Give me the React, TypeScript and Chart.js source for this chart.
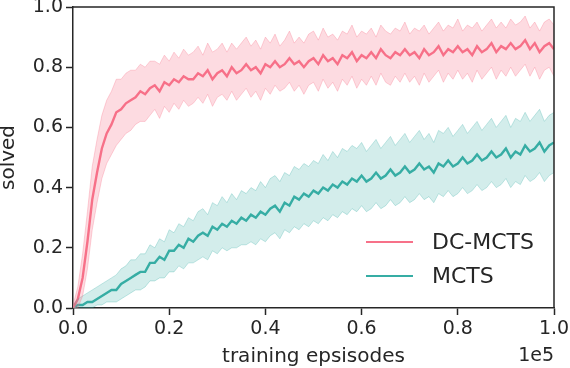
import React, { useEffect, useRef } from "react";
import { Chart, registerables } from "chart.js";

Chart.register(...registerables);

// x positions (in units of 1e5 training episodes), one per sample
const X_STEP = 0.01;
const N_POINTS = 101;

const dcMean = [
  0.00, 0.03, 0.10, 0.22, 0.36, 0.45, 0.53, 0.58, 0.61, 0.65,
  0.66, 0.68, 0.69, 0.70, 0.72, 0.71, 0.73, 0.74, 0.72, 0.75,
  0.74, 0.76, 0.75, 0.77, 0.76, 0.76, 0.78, 0.77, 0.79, 0.76,
  0.78, 0.79, 0.77, 0.80, 0.78, 0.79, 0.81, 0.79, 0.80, 0.78,
  0.81, 0.80, 0.82, 0.80, 0.81, 0.83, 0.81, 0.82, 0.80, 0.82,
  0.83, 0.81, 0.84, 0.82, 0.83, 0.81, 0.84, 0.83, 0.85, 0.82,
  0.84, 0.83, 0.85, 0.83, 0.86, 0.84, 0.83, 0.85, 0.84, 0.86,
  0.84, 0.85, 0.83, 0.86, 0.84, 0.85, 0.87, 0.84, 0.86, 0.85,
  0.87, 0.85, 0.86, 0.84, 0.87, 0.85, 0.86, 0.88, 0.85, 0.87,
  0.86, 0.88, 0.86, 0.87, 0.89, 0.86, 0.88, 0.85, 0.87, 0.88,
  0.86,
];
const dcUpper = [
  0.01, 0.07, 0.18, 0.32, 0.47, 0.56, 0.64, 0.69, 0.72, 0.76,
  0.76, 0.78, 0.79, 0.79, 0.81, 0.80, 0.82, 0.82, 0.81, 0.84,
  0.82, 0.85, 0.83, 0.86, 0.84, 0.85, 0.87, 0.84, 0.88, 0.85,
  0.86, 0.88, 0.85, 0.88, 0.86, 0.88, 0.90, 0.87, 0.89, 0.86,
  0.90, 0.88, 0.91, 0.87, 0.89, 0.92, 0.88, 0.90, 0.88, 0.91,
  0.92, 0.89, 0.93, 0.90, 0.91, 0.89, 0.92, 0.91, 0.94, 0.90,
  0.92, 0.91, 0.93, 0.90, 0.94, 0.92, 0.91, 0.93, 0.92, 0.95,
  0.91, 0.93, 0.92, 0.94, 0.91, 0.93, 0.95, 0.92, 0.94, 0.93,
  0.96, 0.92, 0.94, 0.93, 0.95, 0.92, 0.94, 0.96, 0.93, 0.95,
  0.93, 0.96, 0.94, 0.95, 0.97, 0.93, 0.95, 0.92, 0.95, 0.96,
  0.94,
];
const dcLower = [
  0.00, 0.00, 0.04, 0.13, 0.26, 0.35, 0.43, 0.48, 0.51, 0.54,
  0.56, 0.58, 0.59, 0.61, 0.62, 0.62, 0.64, 0.66, 0.63, 0.67,
  0.65, 0.68, 0.66, 0.69, 0.67, 0.68, 0.70, 0.68, 0.71, 0.67,
  0.70, 0.71, 0.69, 0.72, 0.69, 0.71, 0.73, 0.70, 0.72, 0.69,
  0.73, 0.71, 0.74, 0.72, 0.73, 0.75, 0.72, 0.74, 0.71, 0.74,
  0.75, 0.72, 0.76, 0.73, 0.75, 0.72, 0.76, 0.74, 0.77, 0.73,
  0.76, 0.74, 0.77, 0.74, 0.78, 0.75, 0.74, 0.77, 0.75, 0.78,
  0.75, 0.77, 0.74, 0.78, 0.75, 0.77, 0.79, 0.75, 0.78, 0.76,
  0.79, 0.76, 0.78, 0.75, 0.79, 0.76, 0.78, 0.80, 0.76, 0.79,
  0.77, 0.80, 0.77, 0.79, 0.81, 0.77, 0.80, 0.76, 0.79, 0.80,
  0.77,
];

const mctsMean = [
  0.00, 0.01, 0.01, 0.02, 0.02, 0.03, 0.04, 0.05, 0.06, 0.06,
  0.08, 0.09, 0.10, 0.11, 0.12, 0.12, 0.15, 0.15, 0.17, 0.16,
  0.19, 0.19, 0.21, 0.20, 0.23, 0.22, 0.24, 0.25, 0.24, 0.27,
  0.26, 0.28, 0.27, 0.29, 0.28, 0.30, 0.29, 0.31, 0.30, 0.32,
  0.31, 0.33, 0.34, 0.32, 0.35, 0.34, 0.37, 0.36, 0.38, 0.37,
  0.39, 0.38, 0.40, 0.39, 0.41, 0.40, 0.42, 0.41, 0.43, 0.42,
  0.44, 0.42, 0.43, 0.45, 0.43, 0.44, 0.46, 0.44, 0.45, 0.47,
  0.45, 0.46, 0.48, 0.46, 0.47, 0.45, 0.48, 0.47, 0.49, 0.47,
  0.48, 0.50, 0.48, 0.49, 0.51, 0.49, 0.50, 0.52, 0.50, 0.51,
  0.53, 0.50, 0.52, 0.51, 0.54, 0.52, 0.53, 0.55, 0.52, 0.54,
  0.55,
];
const mctsUpper = [
  0.01, 0.03, 0.04, 0.05, 0.06, 0.07, 0.08, 0.09, 0.10, 0.11,
  0.13, 0.14, 0.16, 0.16, 0.18, 0.18, 0.21, 0.20, 0.23, 0.22,
  0.26, 0.25, 0.28, 0.27, 0.30, 0.29, 0.32, 0.33, 0.31, 0.35,
  0.34, 0.37, 0.35, 0.38, 0.36, 0.39, 0.38, 0.40, 0.39, 0.42,
  0.40, 0.43, 0.44, 0.42, 0.45, 0.44, 0.47, 0.46, 0.48, 0.47,
  0.49, 0.48, 0.51, 0.49, 0.52, 0.50, 0.53, 0.52, 0.54, 0.53,
  0.55, 0.52, 0.54, 0.56, 0.53, 0.55, 0.57, 0.54, 0.56, 0.58,
  0.55, 0.57, 0.59, 0.56, 0.58, 0.55, 0.59, 0.58, 0.60, 0.57,
  0.59, 0.61, 0.58, 0.60, 0.62, 0.59, 0.61, 0.63, 0.60, 0.62,
  0.64, 0.60, 0.63, 0.62, 0.65, 0.62, 0.64, 0.66, 0.62, 0.64,
  0.65,
];
const mctsLower = [
  0.00, 0.00, 0.00, 0.00, 0.00, 0.01, 0.01, 0.02, 0.02, 0.02,
  0.03, 0.04, 0.05, 0.06, 0.06, 0.07, 0.09, 0.09, 0.10, 0.10,
  0.12, 0.12, 0.14, 0.13, 0.15, 0.15, 0.16, 0.17, 0.16, 0.19,
  0.18, 0.20, 0.19, 0.20, 0.20, 0.21, 0.21, 0.22, 0.21, 0.23,
  0.22, 0.24, 0.25, 0.23, 0.26, 0.25, 0.27, 0.26, 0.28, 0.27,
  0.29, 0.28, 0.30, 0.29, 0.31, 0.30, 0.32, 0.31, 0.33, 0.32,
  0.34, 0.32, 0.33, 0.35, 0.33, 0.34, 0.36, 0.34, 0.35, 0.37,
  0.35, 0.36, 0.38, 0.36, 0.37, 0.35, 0.38, 0.37, 0.39, 0.37,
  0.38, 0.40, 0.38, 0.39, 0.41, 0.39, 0.40, 0.42, 0.40, 0.41,
  0.43, 0.40, 0.42, 0.41, 0.44, 0.42, 0.43, 0.45, 0.42, 0.44,
  0.45,
];

const seriesNames = ["DC-MCTS", "MCTS"];
const xTicks = [0, 0.2, 0.4, 0.6, 0.8, 1.0];
const yTicks = [0, 0.2, 0.4, 0.6, 0.8, 1.0];
const xLabel = "training epsisodes";
const yLabel = "solved";
const xOffsetText = "1e5";

const PINK = "#f77189";
const TEAL = "#36ada4";
const INK = "#262626";
const FONT = "'DejaVu Sans', sans-serif";

const toPts = (arr: number[]) =>
  Array.from({ length: N_POINTS }, (_, i) => ({ x: +(i * X_STEP).toFixed(2), y: arr[i] ?? null }));

const decorPlugin = {
  id: "decor",
  afterDraw(chart: any) {
    const { ctx, chartArea } = chart;
    const { left, right, top, bottom } = chartArea;
    ctx.save();
    // frame top & right
    ctx.strokeStyle = INK;
    ctx.lineWidth = 1.5;
    ctx.beginPath();
    ctx.moveTo(left, top);
    ctx.lineTo(right, top);
    ctx.lineTo(right, bottom);
    ctx.stroke();

    ctx.fillStyle = INK;
    // y title
    ctx.save();
    ctx.translate(9, (top + bottom) / 2);
    ctx.rotate(-Math.PI / 2);
    ctx.font = `20px ${FONT}`;
    ctx.textAlign = "center";
    ctx.textBaseline = "middle";
    ctx.fillText(yLabel, 0, 0);
    ctx.restore();

    // x title
    ctx.font = `20px ${FONT}`;
    ctx.textAlign = "center";
    ctx.textBaseline = "alphabetic";
    ctx.fillText(xLabel, (left + right) / 2, 362);

    // offset text
    ctx.font = `19px ${FONT}`;
    ctx.textAlign = "right";
    ctx.fillText(xOffsetText, right, 361);

    // legend
    const colors = [PINK, TEAL];
    const ys = [242, 276];
    ctx.font = `22px ${FONT}`;
    ctx.textAlign = "left";
    ctx.textBaseline = "middle";
    seriesNames.forEach((name, k) => {
      ctx.strokeStyle = colors[k];
      ctx.lineWidth = 2;
      ctx.beginPath();
      ctx.moveTo(366, ys[k]);
      ctx.lineTo(413, ys[k]);
      ctx.stroke();
      ctx.fillStyle = INK;
      ctx.fillText(name, 432, ys[k] + 1);
    });
    ctx.restore();
  },
};

export default function App() {
  const ref = useRef<HTMLCanvasElement | null>(null);
  useEffect(() => {
    if (!ref.current) return;
    const band = (lower: number[], upper: number[], fillA: string, edgeA: string) => [
      {
        data: toPts(lower),
        borderColor: edgeA,
        borderWidth: 1,
        backgroundColor: fillA,
        pointRadius: 0,
        fill: false,
      },
      {
        data: toPts(upper),
        borderColor: edgeA,
        borderWidth: 1,
        backgroundColor: fillA,
        pointRadius: 0,
        fill: "-1",
      },
    ];
    const chart = new Chart(ref.current, {
      type: "line",
      data: {
        datasets: [
          ...band(dcLower, dcUpper, "rgba(247,113,137,0.25)", "rgba(247,113,137,0.30)"),
          ...band(mctsLower, mctsUpper, "rgba(54,173,164,0.22)", "rgba(54,173,164,0.28)"),
          { data: toPts(dcMean), borderColor: PINK, borderWidth: 2.4, pointRadius: 0, fill: false },
          { data: toPts(mctsMean), borderColor: TEAL, borderWidth: 2.4, pointRadius: 0, fill: false },
        ] as any,
      },
      options: {
        animation: false,
        responsive: false,
        maintainAspectRatio: false,
        layout: { padding: { left: 0, right: 16, top: 7, bottom: 0 } },
        plugins: { legend: { display: false }, tooltip: { enabled: false } },
        elements: { line: { tension: 0 } },
        scales: {
          x: {
            type: "linear",
            min: 0,
            max: 1,
            afterBuildTicks: (s: any) => {
              s.ticks = xTicks.map((v) => ({ value: v }));
            },
            afterFit: (s: any) => {
              s.height = 60;
              s.paddingLeft = 0;
              s.paddingRight = 0;
            },
            grid: { display: true, drawOnChartArea: false, drawTicks: true, tickLength: 7, tickColor: INK, tickWidth: 1.5 },
            border: { display: true, color: INK, width: 1.5 },
            ticks: {
              color: INK,
              font: { family: FONT, size: 19 },
              padding: 3,
              maxRotation: 0,
              callback: (v: any) => Number(v).toFixed(1),
            },
          },
          y: {
            type: "linear",
            min: 0,
            max: 1,
            afterBuildTicks: (s: any) => {
              s.ticks = yTicks.map((v) => ({ value: v }));
            },
            afterFit: (s: any) => {
              s.width = 73;
              s.paddingTop = 0;
              s.paddingBottom = 0;
            },
            grid: { display: true, drawOnChartArea: false, drawTicks: true, tickLength: 7, tickColor: INK, tickWidth: 1.5 },
            border: { display: true, color: INK, width: 1.5 },
            ticks: {
              color: INK,
              font: { family: FONT, size: 19 },
              padding: 3,
              callback: (v: any) => Number(v).toFixed(1),
            },
          },
        },
      } as any,
      plugins: [decorPlugin],
    });
    return () => chart.destroy();
  }, []);
  return (
    <div style={{ position: "absolute", left: 0, top: 0, width: 570, height: 368, background: "#fff" }}>
      <canvas ref={ref} width={570} height={368} style={{ width: 570, height: 368, display: "block" }} />
    </div>
  );
}
